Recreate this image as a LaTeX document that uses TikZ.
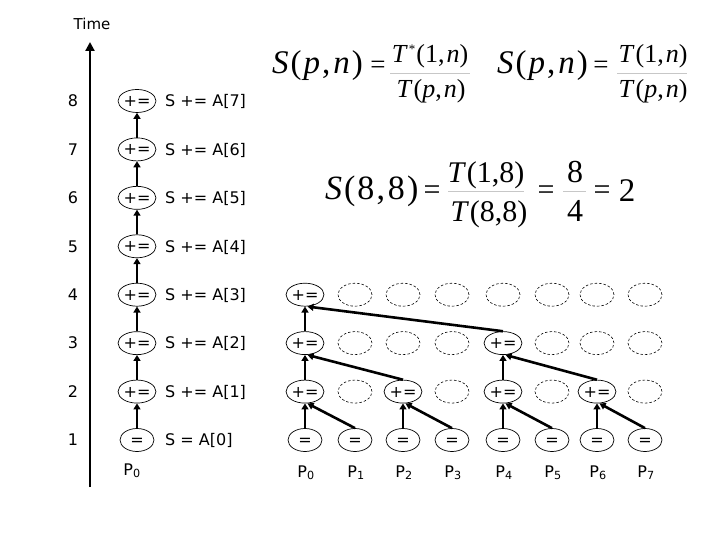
\documentclass[tikz,border=0pt]{standalone}
\usepackage{fontspec}
\setmainfont{DejaVu Sans}
\newfontfamily\tms{Liberation Serif}
\usetikzlibrary{arrows.meta,shapes.geometric}
\newcommand\fsz[1]{\fontsize{#1}{#1}\selectfont}
\begin{document}
\begin{tikzpicture}[x=1pt,y=-1pt,
  lab/.style={inner sep=0pt,font=\fsz{16}},
  opbox/.style={draw,ellipse,inner sep=0pt,minimum width=34pt,minimum height=23pt,
     text height=11pt,text depth=0pt,font=\fsz{16},line width=0.7pt},
  ghost/.style={draw,dashed,ellipse,minimum width=34pt,minimum height=23pt,
     dash pattern=on 2.5pt off 2pt,line width=0.6pt},
  fml/.style={inner sep=0pt,anchor=base},
  fbar/.style={draw=black!22,line width=1pt},
  axisarr/.style={line width=2.2pt,-{Triangle[length=9pt,width=9pt]}},
  chain/.style={line width=2.6pt,-{Triangle[length=6pt,width=7pt]}},
  vup/.style={line width=1.6pt,-{Triangle[length=6pt,width=7pt]}},
  dup/.style={line width=2.6pt,-{Triangle[length=6pt,width=7pt]}},
]
\useasboundingbox (0,0) rectangle (720,540);

% time axis
\node[lab,anchor=base,font=\fsz{15}] (time) at (92,30) {Time};
\coordinate (axb) at (90,487);
\coordinate (axt) at (90,42);
\draw[axisarr] (axb) -- (axt);

% left column (sequential)
\foreach \k in {1,...,8} {
  \pgfmathsetmacro\yy{440-48.43*(\k-1)}
  \pgfmathtruncatemacro\km{\k-1}
  \node[lab,anchor=base] (n\k) at (73,\yy+5.8) {\k};
  \ifnum\k=1
    \node[opbox] (l\k) at (137,\yy) {=};
    \node[lab,anchor=base west] (t\k) at (165,\yy+5.8) {S = A[\km]};
  \else
    \node[opbox] (l\k) at (137,\yy) {+=};
    \node[lab,anchor=base west] (t\k) at (165,\yy+5.8) {S += A[\km]};
  \fi
}
\foreach \k [evaluate=\k as \kp using int(\k+1)] in {1,...,7}
  \draw[chain] (l\k.north) -- (l\kp.south);
\node[lab,anchor=base] (lp0) at (132,475) {P\textsubscript{0}};

% tree grid
\foreach \c/\x in {1/305,2/355,3/403,4/452,5/503,6/552,7/597,8/645} {
  \pgfmathtruncatemacro\cm{\c-1}
  \node[opbox] (g1\c) at (\x,440) {=};
  \node[lab,anchor=base] (p\c) at (\x+1,477) {P\textsubscript{\cm}};
}
\foreach \c/\x in {1/305,3/403,5/503,7/597}
  \node[opbox] (g2\c) at (\x,391.6) {+=};
\foreach \c/\x in {2/355,4/452,6/552,8/645}
  \node[ghost] (g2\c) at (\x,391.6) {};
\foreach \c/\x in {1/305,5/503}
  \node[opbox] (g3\c) at (\x,343.1) {+=};
\foreach \c/\x in {2/355,3/403,4/452,6/552,7/597,8/645}
  \node[ghost] (g3\c) at (\x,343.1) {};
\node[opbox] (g41) at (305,294.7) {+=};
\foreach \c/\x in {2/355,3/403,4/452,5/503,6/552,7/597,8/645}
  \node[ghost] (g4\c) at (\x,294.7) {};

% combining arrows
\foreach \a/\b in {1/2,3/4,5/6,7/8} {
  \draw[vup] (g1\a.north) -- (g2\a.south);
  \draw[dup] (g1\b.north) -- ([xshift=2.5pt]g2\a.south);
}
\draw[vup] (g21.north) -- (g31.south);
\draw[dup] (g23.north) -- ([xshift=2.5pt]g31.south);
\draw[vup] (g25.north) -- (g35.south);
\draw[dup] (g27.north) -- ([xshift=2.5pt]g35.south);
\draw[vup] (g31.north) -- (g41.south);
\draw[dup] (g35.north) -- ([xshift=2.5pt]g41.south);

% formula 1
\node[fml,anchor=base west] (fa1) at (272,74) {\fsz{33}\tms\textit{S}\kern2pt(\kern2pt\textit{p}\kern2pt,\kern3pt\textit{n}\kern2pt)};
\node[fml] (fa2) at (378,74) {\fsz{27}\tms =};
\node[fml] (fa3) at (430,63) {\fsz{26}\tms\textit{T}\kern1pt\raisebox{9pt}{\fsz{13}*}\kern1pt(1,\kern2pt\textit{n})};
\coordinate (fa4) at (390,74); \coordinate (fa5) at (470,74);
\draw[fbar] (fa4) -- (fa5);
\node[fml] (fa6) at (431,98) {\fsz{26}\tms\textit{T}\kern1pt(\textit{p},\kern2pt\textit{n})};

% formula 2
\node[fml,anchor=base west] (fb1) at (497,74) {\fsz{33}\tms\textit{S}\kern2pt(\kern2pt\textit{p}\kern2pt,\kern3pt\textit{n}\kern2pt)};
\node[fml] (fb2) at (601,74) {\fsz{27}\tms =};
\node[fml] (fb3) at (653,63) {\fsz{26}\tms\textit{T}\kern1pt(1,\kern2pt\textit{n})};
\coordinate (fb4) at (617,74); \coordinate (fb5) at (687,74);
\draw[fbar] (fb4) -- (fb5);
\node[fml] (fb6) at (653,98) {\fsz{26}\tms\textit{T}\kern1pt(\textit{p},\kern2pt\textit{n})};

% formula 3
\node[fml,anchor=base west] (fc1) at (325,200) {\fsz{34}\tms\textit{S}\kern2pt(\kern2pt8\kern2pt,\kern3pt8\kern2pt)};
\node[fml] (fc2) at (432,200) {\fsz{30}\tms =};
\node[fml] (fc3) at (486,183) {\fsz{30}\tms\textit{T}\kern1pt(1,8)};
\coordinate (fc4) at (448,192); \coordinate (fc5) at (524,192);
\draw[fbar] (fc4) -- (fc5);
\node[fml] (fc6) at (489,222) {\fsz{30}\tms\textit{T}\kern1pt(8,8)};
\node[fml] (fc7) at (546,200) {\fsz{30}\tms =};
\node[fml] (fc8) at (575,183) {\fsz{32}\tms 8};
\coordinate (fc9) at (563,192); \coordinate (fc10) at (586,192);
\draw[fbar] (fc9) -- (fc10);
\node[fml] (fc11) at (575,222) {\fsz{32}\tms 4};
\node[fml] (fc12) at (602,200) {\fsz{30}\tms =};
\node[fml] (fc13) at (627,202) {\fsz{33}\tms 2};
\end{tikzpicture}
\end{document}
